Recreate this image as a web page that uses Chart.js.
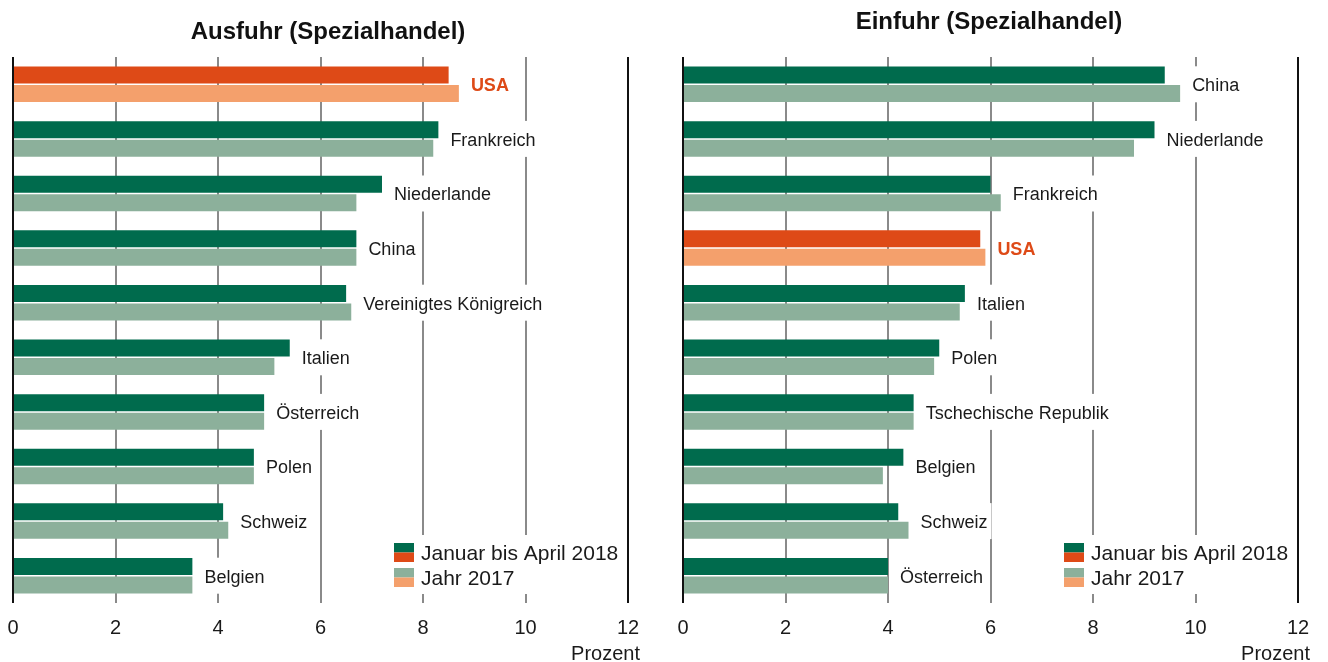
<!DOCTYPE html>
<html>
<head>
<meta charset="utf-8">
<script src="https://cdn.jsdelivr.net/npm/chart.js@4.4.1/dist/chart.umd.min.js"></script>
<style>
  html, body { margin: 0; padding: 0; background: #fff; }
  #wrap { position: relative; width: 1328px; height: 662px; }
  .box { position: absolute; top: 0; width: 664px; height: 662px; }
</style>
</head>
<body>
<div id="wrap">
  <div class="box" style="left:0"><canvas id="ausfuhr" width="664" height="662"></canvas></div>
  <div class="box" style="left:664px"><canvas id="einfuhr" width="664" height="662"></canvas></div>
</div>
<script>
/* Anteile der wichtigsten Handelspartner, in Prozent */
const ausfuhrLaender = ["USA", "Frankreich", "Niederlande", "China", "Vereinigtes Königreich",
  "Italien", "Österreich", "Polen", "Schweiz", "Belgien"];
const ausfuhr2018 = [8.5, 8.3, 7.2, 6.7, 6.5, 5.4, 4.9, 4.7, 4.1, 3.5];
const ausfuhr2017 = [8.7, 8.2, 6.7, 6.7, 6.6, 5.1, 4.9, 4.7, 4.2, 3.5];

const einfuhrLaender = ["China", "Niederlande", "Frankreich", "USA", "Italien",
  "Polen", "Tschechische Republik", "Belgien", "Schweiz", "Österreich"];
const einfuhr2018 = [9.4, 9.2, 6.0, 5.8, 5.5, 5.0, 4.5, 4.3, 4.2, 4.0];
const einfuhr2017 = [9.7, 8.8, 6.2, 5.9, 5.4, 4.9, 4.5, 3.9, 4.4, 4.0];

const xTicks = [0, 2, 4, 6, 8, 10, 12];
const seriesNames = ["Januar bis April 2018", "Jahr 2017"];

const green = "#006b4d";
const lightGreen = "#8cb09b";
const orange = "#de4a17";
const lightOrange = "#f4a06c";
const FONT = '"Liberation Sans", Arial, Helvetica, sans-serif';

// Laendernamen rechts neben den Balken, mit weissem Hintergrund ueber den Gitterlinien
const barLabels = {
  id: "barLabels",
  afterDatasetsDraw(chart) {
    const { ctx, scales: { x, y } } = chart;
    const d = chart.data;
    ctx.save();
    ctx.textBaseline = "middle";
    ctx.textAlign = "left";
    d.labels.forEach((name, i) => {
      const v = Math.max(d.datasets[0].data[i], d.datasets[1].data[i]);
      const px = x.getPixelForValue(v) + 12;
      const py = y.getPixelForValue(i);
      const hot = name === "USA";
      ctx.font = (hot ? "bold " : "") + "18px " + FONT;
      const w = ctx.measureText(name).width;
      ctx.fillStyle = "#fff";
      ctx.fillRect(px - 4, py - 18, w + 8, 36);
      ctx.fillStyle = hot ? orange : "#1a1a1a";
      ctx.fillText(name, px, py + 2);
    });
    ctx.restore();
  }
};

// Legende unten rechts im Diagramm, Farbfelder zweigeteilt (gruen/orange)
const legendBox = {
  id: "legendBox",
  afterDatasetsDraw(chart) {
    const { ctx, chartArea } = chart;
    const left = chartArea.right - 234;
    const tops = [chartArea.bottom - 60, chartArea.bottom - 35];
    const cols = [[green, orange], [lightGreen, lightOrange]];
    ctx.save();
    ctx.fillStyle = "#fff";
    ctx.fillRect(left - 5, tops[0] - 8, chartArea.right - 2 - (left - 5), tops[1] + 19 + 7 - (tops[0] - 8));
    ctx.font = "21px " + FONT;
    ctx.textBaseline = "middle";
    seriesNames.forEach((s, i) => {
      ctx.fillStyle = cols[i][0];
      ctx.fillRect(left, tops[i], 20, 9.5);
      ctx.fillStyle = cols[i][1];
      ctx.fillRect(left, tops[i] + 9.5, 20, 9.5);
      ctx.fillStyle = "#1a1a1a";
      ctx.fillText(s, left + 27, tops[i] + 11);
    });
    ctx.restore();
  }
};

// Ueberschrift und Einheit
const texts = {
  id: "texts",
  afterDraw(chart, args, opts) {
    const { ctx, chartArea } = chart;
    ctx.save();
    ctx.fillStyle = "#111";
    ctx.textAlign = "center";
    ctx.textBaseline = "middle";
    ctx.font = "bold 24px " + FONT;
    ctx.fillText(opts.title, (chartArea.left + chartArea.right) / 2 + opts.dx, opts.y);
    ctx.textAlign = "right";
    ctx.textBaseline = "alphabetic";
    ctx.font = "20px " + FONT;
    ctx.fillStyle = "#1a1a1a";
    ctx.fillText("Prozent", chartArea.right + 12, 660);
    ctx.restore();
  }
};

function makeChart(id, title, laender, v2018, v2017, o) {
  return new Chart(document.getElementById(id), {
    type: "bar",
    data: {
      labels: laender,
      datasets: [
        { label: seriesNames[0], data: v2018,
          backgroundColor: laender.map(l => l === "USA" ? orange : green) },
        { label: seriesNames[1], data: v2017,
          backgroundColor: laender.map(l => l === "USA" ? lightOrange : lightGreen) }
      ]
    },
    options: {
      indexAxis: "y",
      responsive: false,
      animation: false,
      devicePixelRatio: 1,
      layout: { padding: { top: 57, bottom: 9, left: o.left, right: o.right } },
      datasets: { bar: { categoryPercentage: 0.678, barPercentage: 0.92 } },
      scales: {
        x: {
          min: 0,
          max: 12,
          afterBuildTicks: s => { s.ticks = xTicks.map(v => ({ value: v })); },
          border: { display: false },
          grid: {
            drawTicks: false,
            color: c => (c.tick.value === 0 || c.tick.value === 12) ? "#111" : "#8a8a8a",
            lineWidth: 2
          },
          ticks: { padding: 2, color: "#1a1a1a", font: { family: FONT, size: 20, lineHeight: 2.3 } }
        },
        y: { display: false }
      },
      plugins: {
        legend: { display: false },
        tooltip: { enabled: false },
        texts: { title: title, dx: o.dx, y: o.ty }
      }
    },
    plugins: [barLabels, legendBox, texts]
  });
}

makeChart("ausfuhr", "Ausfuhr (Spezialhandel)", ausfuhrLaender, ausfuhr2018, ausfuhr2017,
  { left: 13, right: 36, dx: 7.5, ty: 32 });
makeChart("einfuhr", "Einfuhr (Spezialhandel)", einfuhrLaender, einfuhr2018, einfuhr2017,
  { left: 19, right: 30, dx: -1.5, ty: 22 });
</script>
</body>
</html>
